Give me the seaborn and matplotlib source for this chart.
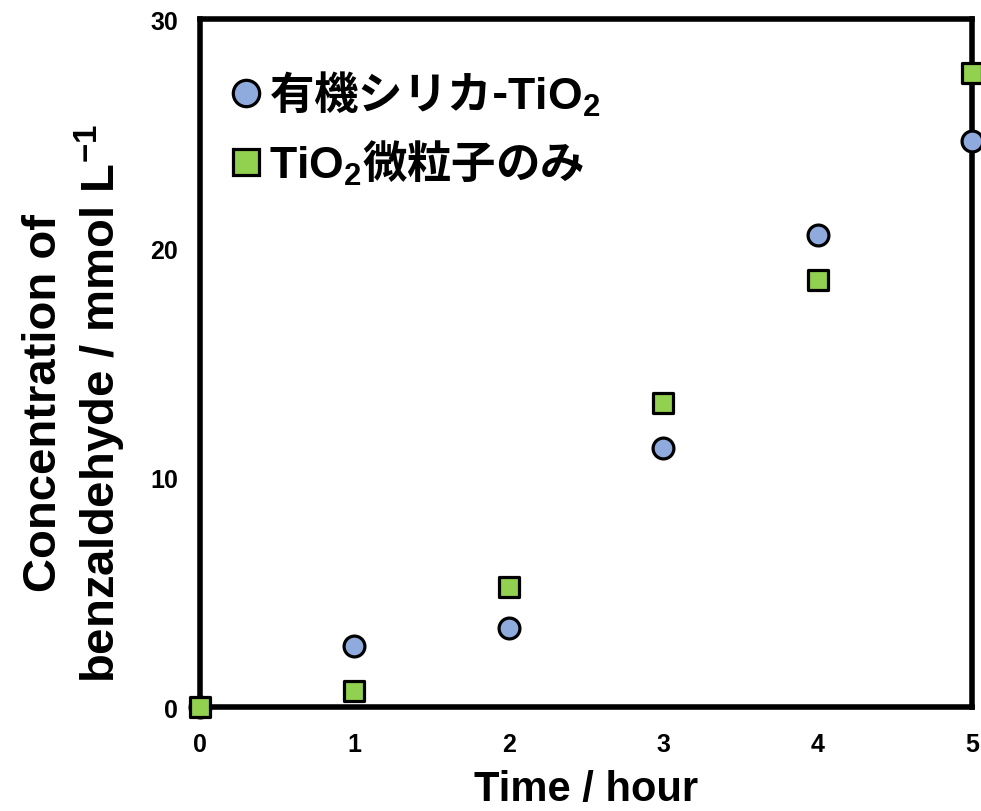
import matplotlib
matplotlib.use("Agg")
import matplotlib.pyplot as plt
import seaborn as sns
import pandas as pd
from matplotlib.lines import Line2D

# ---- data ----
time_hours = [0, 1, 2, 3, 4, 5]
organosilica_tio2 = [0.0, 2.67, 3.43, 11.3, 20.6, 24.7]
tio2_only = [0.0, 0.71, 5.22, 13.26, 18.63, 27.65]
series_labels = ["有機シリカ-$TiO_2$", "$TiO_2$微粒子のみ"]
x_ticks = [0, 1, 2, 3, 4, 5]
y_ticks = [0, 10, 20, 30]

sns.set_theme(style="white")
plt.rcParams['font.family'] = ['Liberation Sans', 'Noto Sans CJK JP', 'DejaVu Sans']
plt.rcParams['mathtext.fontset'] = 'custom'
plt.rcParams['mathtext.rm'] = 'Liberation Sans:bold'
plt.rcParams['mathtext.bf'] = 'Liberation Sans:bold'
plt.rcParams['mathtext.it'] = 'Liberation Sans:bold'
plt.rcParams['mathtext.sf'] = 'Liberation Sans:bold'
plt.rcParams['mathtext.default'] = 'rm'
for k in ['text.color', 'axes.labelcolor', 'xtick.color', 'ytick.color']:
    plt.rcParams[k] = 'black'

circle_color = "#8FAADC"
square_color = "#92D050"

df1 = pd.DataFrame({"t": time_hours, "c": organosilica_tio2})
df2 = pd.DataFrame({"t": time_hours, "c": tio2_only})

fig = plt.figure(figsize=(9.81, 8.12), dpi=100)
ax = fig.add_axes([200/981, 1 - 708/812, 772/981, 688/812])

ms = 15
sns.scatterplot(data=df1, x="t", y="c", ax=ax, marker="o", s=ms**2,
                color=circle_color, edgecolor="black", linewidth=2.3,
                clip_on=False, zorder=5, legend=False)
sns.scatterplot(data=df2, x="t", y="c", ax=ax, marker="s", s=ms**2,
                color=square_color, edgecolor="black", linewidth=2.3,
                clip_on=False, zorder=5, legend=False)

ax.set_xlim(0, 5)
ax.set_ylim(0, 30)
ax.set_xticks(x_ticks)
ax.set_yticks(y_ticks)
ax.set_xticklabels([str(v) for v in x_ticks], fontsize=18, fontweight='bold')
ax.set_yticklabels([str(v) for v in y_ticks], fontsize=18, fontweight='bold')
ax.tick_params(axis='x', direction='in', length=4, width=1, pad=18, color='black')
ax.tick_params(axis='y', direction='in', length=4, width=1, pad=16, color='black')

for sp in ax.spines.values():
    sp.set_visible(True)
    sp.set_color('black')
    sp.set_linewidth(4)
    sp.set_capstyle('projecting')
    sp.set_zorder(3)

ax.set_xlabel("Time / hour", fontsize=30, fontweight='bold', va='center')
ax.xaxis.set_label_coords(0.5, -0.119)
ax.set_ylabel("Concentration of\nbenzaldehyde / mmol L$^{-1}$", fontsize=34,
              fontweight='bold', va='center', linespacing=1.15)
ax.yaxis.set_label_coords(-0.162, 0.443)

lms = 19
handles = [
    Line2D([], [], linestyle='none', marker='o', markersize=lms,
           markerfacecolor=circle_color, markeredgecolor='black', markeredgewidth=2.3),
    Line2D([], [], linestyle='none', marker='s', markersize=lms,
           markerfacecolor=square_color, markeredgecolor='black', markeredgewidth=2.3),
]
leg = ax.legend(handles, series_labels, loc='upper left',
                bbox_to_anchor=(-0.006, 0.972), frameon=False,
                prop={'family': 'Noto Sans CJK JP', 'weight': 'bold', 'size': 32},
                handlelength=0.9, handletextpad=0.05, labelspacing=0.45,
                borderaxespad=0.3)

fig.savefig("out.png", dpi=100)
